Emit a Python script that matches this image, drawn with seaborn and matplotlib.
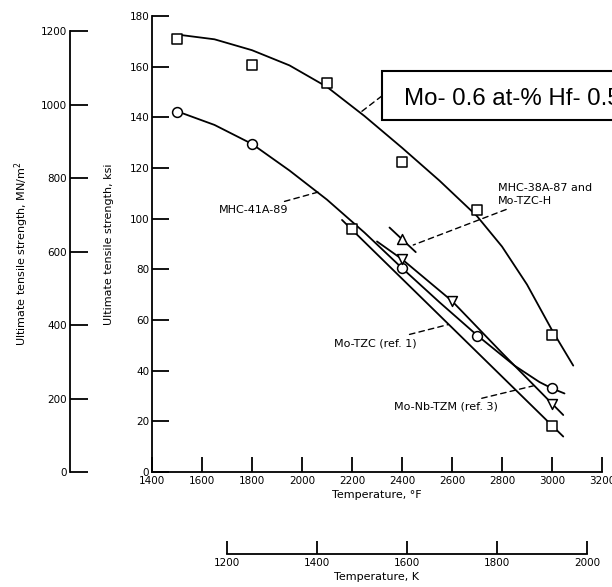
import matplotlib
matplotlib.use("Agg")
import matplotlib.pyplot as plt
from matplotlib.patches import Rectangle
import seaborn as sns

sns.set_theme(style="ticks")
plt.rcParams["font.family"] = ["DejaVu Sans"]
plt.rcParams["text.color"] = "black"

# ---------------- data (temperature in deg F, strength in ksi) ----------------
hf_temp = [1500, 1800, 2100, 2400, 2700, 3000]
hf_uts = [171, 160.5, 153.5, 122.5, 103.5, 54]
hf_curve_temp = [1515, 1650, 1800, 1950, 2100, 2250, 2400, 2550, 2700, 2800, 2900, 3000, 3085]
hf_curve_uts = [172.5, 170.8, 166.5, 160.5, 152, 140.5, 128, 115, 101, 89, 74, 56, 42]

mhc41_temp = [1500, 1800, 2400, 2700, 3000]
mhc41_uts = [142, 129.5, 80.5, 53.5, 33]
mhc41_curve_temp = [1525, 1650, 1800, 1950, 2100, 2250, 2400, 2550, 2700, 2850, 2950, 3000, 3050]
mhc41_curve_uts = [141.5, 137, 129.5, 119, 107.5, 94.5, 80.5, 67, 54, 42, 35.5, 33, 31]

mhc38_temp = [2400]
mhc38_uts = [92]
mhc38_line_temp = [2350, 2455]
mhc38_line_uts = [96.5, 86.8]

tzc_temp = [2200, 3000]
tzc_uts = [96, 18]
tzc_line_temp = [2160, 3045]
tzc_line_uts = [99.5, 14]

tzm_temp = [2400, 2600, 3000]
tzm_uts = [84, 67.5, 27]
tzm_line_temp = [2300, 2400, 2600, 2800, 3000, 3045]
tzm_line_uts = [91, 84, 67.5, 47, 27, 22.5]

x_ticks = list(range(1400, 3201, 200))
y_ticks = list(range(0, 181, 20))
mpa_ticks = list(range(0, 1201, 200))
k_ticks = list(range(1200, 2001, 200))

box_text = "Mo- 0.6 at-% Hf- 0.5"

# ---------------- figure ----------------
W, H = 612, 587
fig = plt.figure(figsize=(W / 100, H / 100), dpi=100)
fig.patch.set_facecolor("white")
ax = fig.add_axes([152 / W, 1 - 472 / H, 450 / W, 456 / H])
ax.set_facecolor("white")

LW = 1.3
FS = 8
TFS = 7.5


def curve(x, y):
    sns.lineplot(x=x, y=y, sort=False, estimator=None, color="black",
                 linewidth=LW, ax=ax, legend=False, zorder=2)


def points(x, y, marker):
    sns.scatterplot(x=x, y=y, marker=marker, s=50, color="white",
                    edgecolor="black", linewidth=1.1, ax=ax, legend=False,
                    zorder=4)


curve(hf_curve_temp, hf_curve_uts)
curve(mhc41_curve_temp, mhc41_curve_uts)
curve(mhc38_line_temp, mhc38_line_uts)
curve(tzc_line_temp, tzc_line_uts)
curve(tzm_line_temp, tzm_line_uts)

points(hf_temp, hf_uts, "s")
points(mhc41_temp, mhc41_uts, "o")
points(mhc38_temp, mhc38_uts, "^")
points(tzc_temp, tzc_uts, "s")
points(tzm_temp, tzm_uts, "v")

ax.set_xlim(1400, 3200)
ax.set_ylim(0, 180)
ax.set_xticks(x_ticks)
ax.set_yticks(y_ticks)
for s in ["top", "right"]:
    ax.spines[s].set_visible(False)
for s in ["left", "bottom"]:
    ax.spines[s].set_color("black")
    ax.spines[s].set_linewidth(LW)
ax.tick_params(axis="x", direction="in", length=11, width=LW, labelsize=TFS,
               pad=3, colors="black")
ax.tick_params(axis="y", direction="in", length=12, width=LW, labelsize=TFS,
               pad=2, colors="black")
ax.set_xlabel("Temperature, °F", fontsize=FS, labelpad=2.5, color="black")
ax.set_ylabel("")

# secondary strength axis (MN/m^2)
sec_y = ax.secondary_yaxis(-82 / 450, functions=(lambda k: k * 6.894757,
                                                  lambda m: m / 6.894757))
sec_y.set_yticks(mpa_ticks)
sec_y.spines["left"].set_bounds(0, 1200)
sec_y.spines["left"].set_linewidth(LW)
sec_y.spines["left"].set_color("black")
sec_y.tick_params(direction="in", length=13, width=LW, labelsize=TFS, pad=2,
                  colors="black")

# secondary temperature axis (K)
sec_x = ax.secondary_xaxis(-82 / 456, functions=(lambda f: (f - 32) * 5 / 9 + 273.15,
                                                  lambda k: (k - 273.15) * 9 / 5 + 32))
sec_x.set_xticks(k_ticks)
sec_x.spines["bottom"].set_bounds(1200, 2000)
sec_x.spines["bottom"].set_linewidth(LW)
sec_x.spines["bottom"].set_color("black")
sec_x.tick_params(direction="in", length=9.5, width=LW, labelsize=TFS, pad=3,
                  colors="black")
sec_x.set_xlabel("Temperature, K", fontsize=FS, labelpad=2.5, color="black")

fig.text(109 / W, 1 - 244 / H, "Ultimate tensile strength, ksi", rotation=90,
         ha="center", va="center", fontsize=FS, color="black")
fig.text(22 / W, 1 - 254 / H, "Ultimate tensile strength, MN/m$^2$", rotation=90,
         ha="center", va="center", fontsize=FS, color="black")

# ---------------- annotations ----------------
dash = dict(arrowstyle="-", linestyle=(0, (4, 3)), linewidth=1.0, color="black",
            shrinkA=1, shrinkB=0)
ax.annotate("MHC-41A-89", xy=(2065, 110.5), xytext=(1944, 103.4),
            ha="right", va="center", fontsize=FS, color="black", arrowprops=dash)
ax.annotate("MHC-38A-87 and\nMo-TZC-H", xy=(2445, 89.6), xytext=(2784, 109.5),
            ha="left", va="center", fontsize=FS, linespacing=1.4, color="black",
            arrowprops=dict(dash, shrinkA=0))
ax.annotate("Mo-TZC (ref. 1)", xy=(2585, 58.2), xytext=(2460, 50.9),
            ha="right", va="center", fontsize=FS, color="black", arrowprops=dash)
ax.annotate("Mo-Nb-TZM (ref. 3)", xy=(2925, 34.0), xytext=(2784, 25.7),
            ha="right", va="center", fontsize=FS, color="black", arrowprops=dash)
ax.annotate("", xy=(2232, 141.8), xytext=(2319, 148.4), arrowprops=dict(dash, shrinkA=0))

# boxed label (runs past the right edge of the figure, as in the source)
fig.add_artist(Rectangle((382 / W, 1 - 120 / H), 300 / W, 48.5 / H,
                         transform=fig.transFigure, facecolor="white",
                         edgecolor="black", linewidth=1.5, zorder=5))
fig.text(404 / W, 1 - 99 / H, box_text, ha="left", va="center", fontsize=17.3,
         family=["Liberation Sans", "DejaVu Sans"], color="black", zorder=6)

fig.savefig("out.png", dpi=100, facecolor="white")
